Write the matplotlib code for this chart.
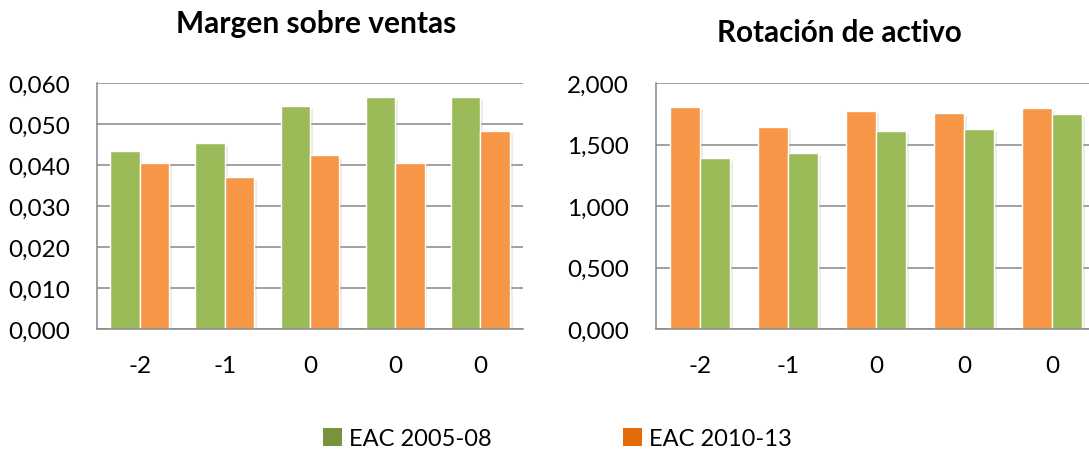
import matplotlib
matplotlib.use("Agg")
import matplotlib.pyplot as plt
import matplotlib.patheffects as pe
from matplotlib.patches import Patch
from matplotlib.ticker import FuncFormatter, MultipleLocator
import numpy as np

plt.rcParams['font.family'] = ['Lato', 'DejaVu Sans']

categories = ["-2", "-1", "0", "0", "0"]
series_names = ["EAC 2005-08", "EAC 2010-13"]

margen_2005 = [0.0434, 0.0454, 0.0544, 0.0566, 0.0566]
margen_2010 = [0.0404, 0.0370, 0.0424, 0.0405, 0.0483]

rotacion_2010 = [1.807, 1.644, 1.772, 1.755, 1.796]
rotacion_2005 = [1.391, 1.432, 1.611, 1.622, 1.750]

titles = ["Margen sobre ventas", "Rotación de activo"]

GREEN = "#9BBB59"
ORANGE = "#F79646"
GREEN_LEG = "#77933C"
ORANGE_LEG = "#E36C09"
GRID = "#868686"

W, H = 1089, 452
fig = plt.figure(figsize=(W / 100, H / 100), dpi=100)

def px_axes(x0, x1, ytop, ybot):
    return fig.add_axes([x0 / W, 1 - ybot / H, (x1 - x0) / W, (ybot - ytop) / H])

ax1 = px_axes(97, 523, 84, 330)
ax2 = px_axes(656, 1096, 84, 330)

shadow = [pe.SimplePatchShadow(offset=(2, -2), shadow_rgbFace="#b0b0b0", alpha=0.25), pe.Normal()]

def style(ax, ymax, step, fmt):
    ax.set_xlim(-0.5, len(categories) - 0.5)
    ax.set_ylim(0, ymax)
    ax.yaxis.set_major_locator(MultipleLocator(step))
    ax.yaxis.set_major_formatter(FuncFormatter(lambda v, p: fmt.format(v).replace(".", ",")))
    ax.set_xticks(np.arange(len(categories)))
    ax.set_xticklabels(categories)
    ax.tick_params(axis="both", length=0, labelsize=17.5, colors="black")
    ax.tick_params(axis="y", pad=19.5)
    ax.tick_params(axis="x", pad=18.5)
    ax.grid(axis="y", color=GRID, linewidth=1.1)
    ax.set_axisbelow(True)
    for s in ["top", "right"]:
        ax.spines[s].set_visible(False)
    for s in ["left", "bottom"]:
        ax.spines[s].set_color(GRID)
        ax.spines[s].set_linewidth(1.1)

x = np.arange(len(categories))
bw = 0.345

b = ax1.bar(x - bw / 2, margen_2005, bw, color=GREEN, edgecolor="white", linewidth=1)
for r in b: r.set_path_effects(shadow)
b = ax1.bar(x + bw / 2, margen_2010, bw, color=ORANGE, edgecolor="white", linewidth=1)
for r in b: r.set_path_effects(shadow)
style(ax1, 0.06, 0.01, "{:.3f}")

b = ax2.bar(x - bw / 2, rotacion_2010, bw, color=ORANGE, edgecolor="white", linewidth=1)
for r in b: r.set_path_effects(shadow)
b = ax2.bar(x + bw / 2, rotacion_2005, bw, color=GREEN, edgecolor="white", linewidth=1)
for r in b: r.set_path_effects(shadow)
style(ax2, 2.0, 0.5, "{:.3f}")

fig.text(316 / W, 1 - 33 / H, titles[0], ha="center", va="baseline", fontsize=21.5, fontweight="bold")
fig.text(839 / W, 1 - 42 / H, titles[1], ha="center", va="baseline", fontsize=21.3, fontweight="bold")

handles = [Patch(facecolor=GREEN_LEG, edgecolor="none"), Patch(facecolor=ORANGE_LEG, edgecolor="none")]
fig.legend(handles, series_names, loc="lower left", bbox_to_anchor=(318 / W, 1 - 455 / H),
           ncol=2, frameon=False, fontsize=17, handlelength=0.8, handleheight=0.8,
           handletextpad=0.3, columnspacing=5.57, borderaxespad=0, borderpad=0.2)

fig.savefig("out.png", dpi=100)
